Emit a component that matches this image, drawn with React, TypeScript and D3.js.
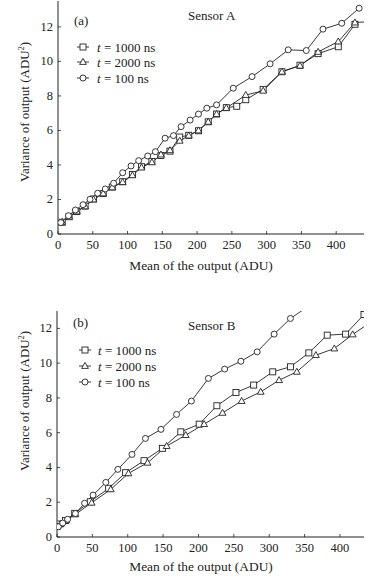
import React from "react";
import * as d3 from "d3";

// ---------- Data ----------
// Panel (a) Sensor A
const aX1000 = [6, 16, 27, 39, 51, 65, 78, 93, 107, 120, 135, 148, 161, 175, 188, 202, 216, 228, 242, 257, 270, 295, 322, 348, 374, 403, 427];
const aY1000 = [0.68, 1.0, 1.3, 1.62, 2.03, 2.34, 2.72, 3.03, 3.45, 3.9, 4.2, 4.55, 4.8, 5.62, 5.72, 5.98, 6.5, 6.95, 7.32, 7.4, 7.78, 8.38, 9.4, 9.78, 10.45, 10.85, 12.15];
const aX2000 = [6, 16, 27, 39, 51, 65, 78, 93, 107, 120, 135, 148, 161, 175, 188, 202, 216, 228, 242, 270, 295, 322, 348, 374, 403, 427, 445];
const aY2000 = [0.7, 1.0, 1.3, 1.6, 2.0, 2.35, 2.7, 3.0, 3.4, 3.85, 4.15, 4.6, 4.85, 5.4, 5.7, 6.0, 6.5, 6.95, 7.3, 8.05, 8.3, 9.4, 9.75, 10.55, 11.15, 12.25, 12.3];
const aX100 = [4, 15, 25, 36, 46, 57, 68, 80, 93, 105, 116, 129, 140, 154, 166, 177, 190, 202, 214, 228, 252, 279, 305, 331, 357, 381, 408, 433];
const aY100 = [0.66, 1.06, 1.39, 1.7, 2.01, 2.36, 2.61, 2.94, 3.55, 3.94, 4.25, 4.52, 4.77, 5.55, 5.7, 6.22, 6.6, 6.95, 7.29, 7.48, 8.45, 9.12, 9.86, 10.67, 10.63, 11.87, 12.21, 13.08];

// Panel (b) Sensor B
const bX1000 = [0, 4, 12, 25, 47, 73, 97, 123, 149, 175, 201, 226, 253, 278, 305, 330, 356, 382, 408, 434];
const bY1000 = [0.6, 0.75, 0.95, 1.36, 2.03, 2.8, 3.7, 4.39, 5.1, 6.05, 6.49, 7.55, 8.31, 8.74, 9.5, 9.79, 10.59, 11.61, 11.67, 12.8];
const bX2000 = [0, 5, 13, 26, 49, 76, 101, 128, 155, 182, 208, 234, 261, 288, 314, 339, 366, 392, 418, 445];
const bY2000 = [0.62, 0.75, 0.95, 1.3, 1.97, 2.74, 3.66, 4.27, 5.23, 5.86, 6.49, 7.14, 7.82, 8.35, 9.02, 9.5, 10.46, 10.84, 11.65, 12.4];
const bX100 = [2, 8, 15, 26, 39, 51, 69, 86, 106, 125, 147, 169, 190, 214, 237, 260, 283, 307, 330, 360];
const bY100 = [0.59, 0.8, 1.02, 1.35, 1.94, 2.41, 3.14, 3.89, 4.75, 5.67, 6.19, 7.05, 7.82, 9.12, 9.66, 10.11, 10.65, 11.67, 12.57, 13.4];

const xTicks = [0, 50, 100, 150, 200, 250, 300, 350, 400];
const yTicks = [0, 2, 4, 6, 8, 10, 12];
const legendLabels = ["1000 ns", "2000 ns", "100 ns"];
const markerTypes = ["square", "triangle", "circle"];

const FONT = "'Liberation Serif', 'Times New Roman', serif";
const INK = "#222";

type Pt = [number, number];
const zip = (xs: number[], ys: number[]): Pt[] => xs.map((x, i) => [x, ys[i]]);

function Marker({ type, x, y }: { type: string; x: number; y: number }) {
  const sw = 0.9;
  if (type === "square")
    return <rect x={x - 3} y={y - 3} width={6} height={6} fill="white" stroke={INK} strokeWidth={sw} />;
  if (type === "triangle")
    return (
      <path
        d={`M${x},${y - 3.6}L${x + 3.4},${y + 2.4}L${x - 3.4},${y + 2.4}Z`}
        fill="white"
        stroke={INK}
        strokeWidth={sw}
      />
    );
  return <circle cx={x} cy={y} r={3} fill="white" stroke={INK} strokeWidth={sw} />;
}

interface PanelProps {
  id: string;
  series: Pt[][];
  xRange: [number, number];
  xMax: number;
  yRange: [number, number];
  yMax: number;
  tag: string;
  tagPos: [number, number];
  title: string;
  titlePos: [number, number];
  legendY: number[];
  legendX: [number, number, number];
  yLabelY: number;
  xLabelY: number;
  xTickY: number;
}

function Panel(p: PanelProps) {
  const x = d3.scaleLinear().domain([0, p.xMax]).range(p.xRange);
  const y = d3.scaleLinear().domain([0, p.yMax]).range(p.yRange);
  const line = d3
    .line<Pt>()
    .x((d) => x(d[0]))
    .y((d) => y(d[1]));
  const [x0, x1] = p.xRange;
  const [yb, yt] = p.yRange;
  const clipId = `clip-${p.id}`;
  return (
    <g>
      <defs>
        <clipPath id={clipId}>
          <rect x={x0} y={yt} width={x1 - x0} height={yb - yt} />
        </clipPath>
      </defs>
      {/* axes */}
      <line x1={x0} x2={x0} y1={yb} y2={yt} stroke={INK} strokeWidth={1} />
      <line x1={x0} x2={x1} y1={yb} y2={yb} stroke={INK} strokeWidth={1} />
      {xTicks.map((t) => (
        <g key={"xt" + t}>
          <line x1={x(t)} x2={x(t)} y1={yb} y2={yb - 3} stroke={INK} strokeWidth={0.8} />
          <text x={x(t)} y={p.xTickY} textAnchor="middle" fontSize={12.5} fontFamily={FONT} fill={INK}>
            {t}
          </text>
        </g>
      ))}
      {yTicks.map((t) => (
        <g key={"yt" + t}>
          <line x1={x0} x2={x0 + 3} y1={y(t)} y2={y(t)} stroke={INK} strokeWidth={0.8} />
          <text x={x0 - 5} y={y(t) + 4} textAnchor="end" fontSize={12.5} fontFamily={FONT} fill={INK}>
            {t}
          </text>
        </g>
      ))}
      {/* series */}
      <g clipPath={`url(#${clipId})`}>
        {p.series.map((s, i) => (
          <path key={"l" + i} d={line(s) || ""} fill="none" stroke={INK} strokeWidth={0.9} />
        ))}
        {p.series.map((s, i) =>
          s.map((d, j) => <Marker key={`m${i}-${j}`} type={markerTypes[i]} x={x(d[0])} y={y(d[1])} />)
        )}
      </g>
      {/* labels */}
      <text x={p.tagPos[0]} y={p.tagPos[1]} fontSize={13} fontFamily={FONT} fill={INK}>
        {p.tag}
      </text>
      <text x={p.titlePos[0]} y={p.titlePos[1]} fontSize={13} fontFamily={FONT} fill={INK}>
        {p.title}
      </text>
      {legendLabels.map((lab, i) => (
        <g key={"lg" + i}>
          <line
            x1={p.legendX[0]}
            x2={p.legendX[1]}
            y1={p.legendY[i]}
            y2={p.legendY[i]}
            stroke={INK}
            strokeWidth={0.9}
          />
          <Marker type={markerTypes[i]} x={(p.legendX[0] + p.legendX[1]) / 2} y={p.legendY[i]} />
          <text x={p.legendX[2]} y={p.legendY[i] + 4.5} fontSize={13} fontFamily={FONT} fill={INK}>
            <tspan fontStyle="italic">t</tspan> = {lab}
          </text>
        </g>
      ))}
      <text
        transform={`translate(29,${p.yLabelY}) rotate(-90)`}
        textAnchor="middle"
        fontSize={13}
        fontFamily={FONT}
        fill={INK}
      >
        Variance of output (ADU
        <tspan fontSize={8} dy={-5}>
          2
        </tspan>
        <tspan dy={5}>)</tspan>
      </text>
      <text x={201} y={p.xLabelY} textAnchor="middle" fontSize={13.4} fontFamily={FONT} fill={INK}>
        Mean of the output (ADU)
      </text>
    </g>
  );
}

export default function App() {
  return (
    <svg
      width={379}
      height={579}
      style={{ position: "absolute", left: 0, top: 0, background: "white" }}
    >
      <rect width={379} height={579} fill="white" />
      <Panel
        id="a"
        series={[zip(aX1000, aY1000), zip(aX2000, aY2000), zip(aX100, aY100)]}
        xRange={[58, 364]}
        xMax={440}
        yRange={[234, 1]}
        yMax={13.5}
        tag="(a)"
        tagPos={[74, 25]}
        title="Sensor A"
        titlePos={[188, 20]}
        legendY={[47, 62, 78]}
        legendX={[77, 89, 97]}
        yLabelY={112}
        xLabelY={270}
        xTickY={249}
      />
      <Panel
        id="b"
        series={[zip(bX1000, bY1000), zip(bX2000, bY2000), zip(bX100, bY100)]}
        xRange={[57, 364]}
        xMax={434}
        yRange={[537, 311]}
        yMax={13}
        tag="(b)"
        tagPos={[73, 327]}
        title="Sensor B"
        titlePos={[188, 330]}
        legendY={[350, 366, 382]}
        legendX={[79, 91, 98]}
        yLabelY={401}
        xLabelY={571}
        xTickY={552}
      />
    </svg>
  );
}
